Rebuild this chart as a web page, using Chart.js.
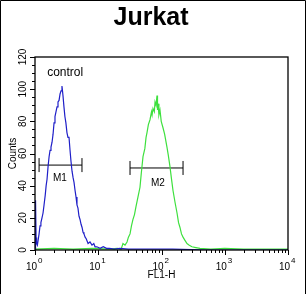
<!DOCTYPE html>
<html>
<head>
<meta charset="utf-8">
<script src="https://cdn.jsdelivr.net/npm/chart.js@4.4.1/dist/chart.umd.min.js"></script>
<style>
  html, body { margin: 0; padding: 0; background: #fff; }
  #wrap { width: 306px; height: 294px; }
</style>
</head>
<body>
<div id="wrap"><canvas id="flowChart" width="306" height="294"></canvas></div>
<script>
// tick labels
const yTicks = [0, 20, 40, 60, 80, 100, 120];
const xDecades = [0, 1, 2, 3, 4];

// control histogram (blue)
const controlX = [1.00, 1.02, 1.04, 1.06, 1.09, 1.12, 1.16, 1.20, 1.24, 1.29, 1.34, 1.39, 1.45, 1.50, 1.55, 1.61,
  1.67, 1.73, 1.79, 1.86, 1.93, 2.00, 2.07, 2.15, 2.23, 2.31, 2.40, 2.49, 2.58, 2.67, 2.77, 2.87, 2.97, 3.08,
  3.20, 3.32, 3.45, 3.58, 3.71, 3.85, 4.00, 4.14, 4.30, 4.45, 4.61, 4.78, 4.96, 5.15, 5.35, 5.55, 5.75, 5.95,
  6.20, 6.45, 6.90, 7.40, 7.96, 8.50, 8.90, 9.50, 10.7, 12, 13.5, 15, 18, 22, 30, 50, 80, 150, 300, 500, 10000];
const controlY = [0, 31, 8, 4, 3, 6, 10, 15, 17, 20, 23, 28, 34, 40, 44, 52,
  58, 62, 64, 67, 72, 79, 83, 86, 89, 92, 93, 97, 99, 102, 96, 89, 83, 79,
  73, 70, 70, 62, 55, 49, 45, 42, 37, 33, 28, 26, 21, 19, 16, 14, 11, 10,
  8, 7, 4, 5, 3, 4, 2, 2, 1, 2, 1, 1, 0.5, 1, 0.5, 0.5, 0.5, 0.5, 0.3, 0, 0];

// sample histogram (green)
const sampleX = [1, 2, 4, 8, 15, 20, 23, 24.6, 26.5, 28.5, 30, 31.8, 33.5, 35.4, 37.4, 39.5, 42.5, 45.7, 48, 51,
  54.5, 57, 59, 62, 65.8, 69.5, 71, 73.4, 77, 79, 81.9, 84.9, 86.5, 88.1, 91, 94.7, 99, 105.6, 112, 122,
  128, 136, 143, 152, 163, 176, 186, 196, 207, 219, 235, 253, 275, 303, 350, 406, 600, 1000, 2000, 10000];
const sampleY = [0.5, 1, 0.5, 1, 0.5, 1, 0.5, 4, 3, 5, 8, 10, 15, 19, 22, 27, 33, 39, 48, 58,
  63, 70, 73, 78, 81, 86, 84, 88, 86, 92, 90, 96, 87, 91, 84, 87, 80, 76, 72, 64,
  59, 52, 45, 37, 30, 23, 17, 14, 10, 8, 6, 4, 3, 2, 1.5, 1, 0.5, 1, 0.5, 0.5];

// gate markers
const m1X = [1.16, 5.53];
const m1Y = 52.8;
const m2X = [31.8, 219];
const m2Y = 51;

function toPoints(xs, ys) {
  return xs.map((x, i) => ({ x: x, y: ys[i] }));
}

const axisPlugin = {
  id: 'flowAxes',
  afterDraw(chart) {
    const ctx = chart.ctx;
    const area = chart.chartArea;
    const xs = chart.scales.x;
    const ys = chart.scales.y;
    ctx.save();

    // image frame
    ctx.strokeStyle = '#000';
    ctx.lineWidth = 1;
    ctx.beginPath();
    ctx.moveTo(0.5, 294);
    ctx.lineTo(0.5, 0.5);
    ctx.lineTo(305.5, 0.5);
    ctx.lineTo(305.5, 294);
    ctx.stroke();

    // title
    ctx.fillStyle = '#000';
    ctx.font = 'bold 25px "Liberation Sans", Arial, sans-serif';
    ctx.textAlign = 'center';
    ctx.textBaseline = 'alphabetic';
    ctx.fillText('Jurkat', 151, 25);

    // plot box
    ctx.lineWidth = 1.3;
    ctx.strokeRect(area.left, area.top, area.right - area.left, area.bottom - area.top);

    // y ticks, minor every 5
    ctx.lineWidth = 1;
    ctx.beginPath();
    for (let v = 0; v <= 120; v += 5) {
      const py = Math.round(ys.getPixelForValue(v)) + 0.5;
      const len = v % 20 === 0 ? 5 : 3;
      ctx.moveTo(area.left - len, py);
      ctx.lineTo(area.left, py);
    }
    // x ticks, log minors
    xDecades.forEach(d => {
      for (let m = 1; m <= 9; m++) {
        if (d === 4 && m > 1) break;
        const px = Math.round(xs.getPixelForValue(m * Math.pow(10, d))) + 0.5;
        const len = m === 1 ? 5 : 3;
        ctx.moveTo(px, area.bottom);
        ctx.lineTo(px, area.bottom + len);
      }
    });
    ctx.stroke();

    // y tick labels, rotated
    ctx.font = '10px "Liberation Sans", Arial, sans-serif';
    ctx.textAlign = 'center';
    ctx.textBaseline = 'middle';
    yTicks.forEach(v => {
      const py = ys.getPixelForValue(v);
      ctx.save();
      ctx.translate(area.left - 12, py);
      ctx.rotate(-Math.PI / 2);
      ctx.fillText(String(v), 0, 0);
      ctx.restore();
    });

    // x tick labels 10^n
    xDecades.forEach(d => {
      const px = xs.getPixelForValue(Math.pow(10, d));
      ctx.font = '10px "Liberation Sans", Arial, sans-serif';
      ctx.textAlign = 'right';
      ctx.fillText('10', px + 2, 267);
      ctx.font = '8px "Liberation Sans", Arial, sans-serif';
      ctx.textAlign = 'left';
      ctx.fillText(String(d), px + 3, 261);
    });

    // gate labels
    ctx.font = '10px "Liberation Sans", Arial, sans-serif';
    ctx.textAlign = 'center';
    ctx.fillText('M1', xs.getPixelForValue(2.48), ys.getPixelForValue(m1Y) + 13);
    ctx.fillText('M2', xs.getPixelForValue(88), ys.getPixelForValue(m2Y) + 15);

    // control label
    ctx.font = '12px "Liberation Sans", Arial, sans-serif';
    ctx.fillText('control', xs.getPixelForValue(3.0), ys.getPixelForValue(110.5));

    ctx.restore();
  }
};

const ctx = document.getElementById('flowChart').getContext('2d');
new Chart(ctx, {
  type: 'line',
  data: {
    datasets: [
      {
        label: 'control',
        data: toPoints(controlX, controlY),
        borderColor: '#1f1fc8',
        borderWidth: 1.2,
        pointRadius: 0,
        tension: 0
      },
      {
        label: 'Jurkat',
        data: toPoints(sampleX, sampleY),
        borderColor: '#3ee03e',
        borderWidth: 1.2,
        pointRadius: 0,
        tension: 0
      },
      {
        label: 'M1',
        data: toPoints(m1X, [m1Y, m1Y]),
        borderColor: '#000',
        borderWidth: 1,
        pointStyle: 'line',
        rotation: 90,
        pointRadius: 7,
        pointBorderColor: '#000',
        pointBorderWidth: 1
      },
      {
        label: 'M2',
        data: toPoints(m2X, [m2Y, m2Y]),
        borderColor: '#000',
        borderWidth: 1,
        pointStyle: 'line',
        rotation: 90,
        pointRadius: 7,
        pointBorderColor: '#000',
        pointBorderWidth: 1
      }
    ]
  },
  options: {
    responsive: false,
    animation: false,
    layout: { padding: { left: 0, right: 18, top: 57, bottom: 0 } },
    plugins: {
      legend: { display: false },
      tooltip: { enabled: false },
      title: { display: false }
    },
    scales: {
      x: {
        type: 'logarithmic',
        min: 1,
        max: 10000,
        ticks: { display: false },
        grid: { display: false },
        border: { display: false },
        title: {
          display: true,
          text: 'FL1-H',
          color: '#000',
          font: { family: '"Liberation Sans", Arial, sans-serif', size: 10 },
          padding: { top: 0, bottom: 13 }
        },
        afterFit(scale) { scale.height = 44; }
      },
      y: {
        min: 0,
        max: 120,
        ticks: { display: false },
        grid: { display: false },
        border: { display: false },
        title: {
          display: true,
          text: 'Counts',
          color: '#000',
          font: { family: '"Liberation Sans", Arial, sans-serif', size: 10 },
          padding: { top: 7, bottom: 0 }
        },
        afterFit(scale) { scale.width = 35; }
      }
    }
  },
  plugins: [axisPlugin]
});
</script>
</body>
</html>
